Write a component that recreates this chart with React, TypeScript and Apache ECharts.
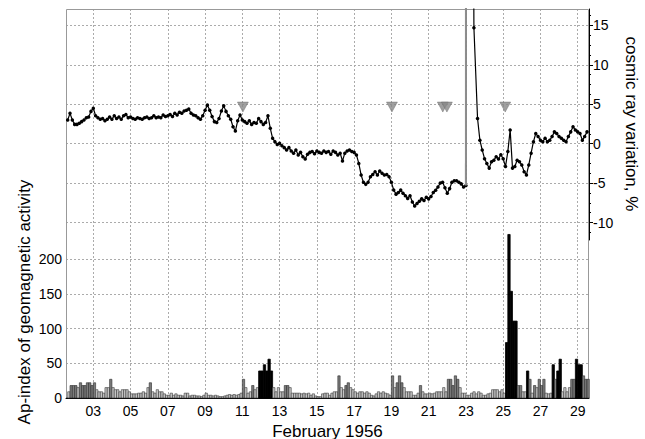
import React, { useEffect, useRef } from "react";
import * as echarts from "echarts";

// ---------- data ----------
const dayTicks = [3, 5, 7, 9, 11, 13, 15, 17, 19, 21, 23, 25, 27, 29];
const crTicks = [-10, -5, 0, 5, 10, 15];
const apTicks = [0, 50, 100, 150, 200];

const sampleStart = 1.625; // Feb 1, 15 UT (day of month)
const sampleStep = 0.125; // 3 hours

// cosmic ray variation, %, 3-hourly from sampleStart (samples 0..171)
const cosmicBefore = [
  3.0, 3.85, 3.0, 2.45, 2.45, 2.6, 2.8, 3.0, 3.3, 3.4,
  4.1, 4.5, 3.55, 3.3, 3.1, 3.2, 2.9, 3.1, 3.4, 3.1,
  3.55, 3.2, 3.4, 3.1, 3.55, 3.7, 3.3, 3.4, 3.2, 3.1,
  3.3, 3.2, 3.1, 3.3, 3.4, 3.2, 3.3, 3.55, 3.3, 3.4,
  3.3, 3.65, 3.45, 3.55, 3.7, 3.45, 3.85, 3.65, 4.0, 3.85,
  4.15, 4.25, 4.4, 3.85, 3.65, 3.55, 3.3, 3.1, 3.55, 4.25,
  4.9, 4.25, 3.45, 2.8, 2.7, 3.2, 4.15, 4.8, 4.1, 3.55,
  3.1, 2.15, 1.6, 2.9, 3.65,
  3.0, 2.8, 2.6, 2.9, 2.45, 2.7, 2.6, 3.2, 2.8, 2.45,
  2.7, 3.55, 1.95, 0.68, 0.26, -0.1, 0.05, -0.25, -0.5, -0.8,
  -0.5, -0.93, -1.2, -0.8, -1.43, -1.1, -1.65, -1.95, -1.35, -1.1,
  -1.0, -1.27, -0.93, -1.1, -1.2, -0.93, -1.1, -1.0, -1.35, -0.93,
  -1.1, -1.43, -1.2, -2.2, -1.2, -0.93, -0.8, -1.0, -1.1, -1.43,
  -2.5, -3.97, -4.9, -5.16, -4.9, -4.2, -3.9, -3.55, -3.97, -3.47,
  -3.76, -3.97, -3.9, -4.2, -4.9, -5.88, -6.4, -6.2, -5.88, -6.3,
  -6.6, -6.94, -6.6, -7.4, -7.9,
  -7.6, -7.3, -7.0, -7.2, -6.8, -7.0, -6.7, -6.2, -5.9, -5.5,
  -5.0, -4.9, -5.6, -6.3, -5.7, -4.9, -4.7, -4.7, -4.9, -5.1,
  -5.5, -5.3,
];

// ground level enhancement of 23 Feb 1956 (off scale)
const gleDays = [23.04, 23.3, 23.41, 23.43];
const gleValues = [300, 80, 25, 14.7];

// cosmic ray variation, %, 3-hourly, samples 176..223
const cosmicAfterStart = 176;
const cosmicAfter = [
  3.2, 0.45, -0.8, -1.9, -2.5, -3.1, -2.3, -2.1, -1.65, -1.95,
  -1.4, -1.9, -2.9, -1.0, 1.75, -3.1, -2.9, -2.1, -2.3, -2.7,
  -3.55, -3.97, -2.7, -1.2, 0.25, 1.3, 0.9, 0.45, 0.25, 0.7,
  0.25, 0.45, 0.9, 1.5, 1.3, 0.9, 0.7, 0.45, 0.25, 0.9,
  1.5, 2.15, 1.75, 1.5, 1.3, 0.45, 0.9, 1.5,
];

// 3-hourly Ap index from sampleStart
const apIndex = [
  9, 18, 18, 18, 15, 22, 18, 18, 22, 22,
  18, 22, 12, 9, 9, 7, 15, 15, 27, 15,
  12, 12, 9, 12, 12, 12, 9, 6, 6, 6,
  7, 7, 9, 7, 15, 22, 9, 7, 12, 9,
  9, 6, 4, 4, 7, 4, 6, 4, 4, 3,
  7, 7, 3, 4, 4, 3, 3, 2, 4, 7,
  4, 4, 3, 4, 3, 2, 2, 3, 4, 5,
  4, 5, 4, 5, 7,
  27, 15, 7, 9, 18, 12, 15, 39, 39, 48,
  39, 56, 39, 15, 9, 15, 9, 9, 18, 18,
  15, 7, 7, 7, 7, 6, 7, 6, 7, 4,
  6, 3, 2, 2, 6, 7, 7, 4, 7, 9,
  9, 32, 15, 12, 18, 22, 15, 12, 9, 7,
  9, 9, 7, 9, 7, 4, 3, 6, 9, 7,
  9, 7, 6, 4, 32, 15, 22, 32, 22, 15,
  9, 9, 9, 4, 4, 7,
  18, 9, 6, 6, 7, 6, 7, 9, 9, 9,
  15, 9, 27, 27, 18, 32, 27, 15, 7, 7,
  4, 4, 7, 9, 6, 9, 7, 4, 4, 6,
  7, 12, 12, 12, 9, 12, 7,
  80, 236, 154, 111, 111, 18, 18, 9, 9, 39,
  27, 7, 18, 15, 27, 18, 27, 7, 6, 7,
  48, 27, 39, 56, 9, 15, 9, 15, 27, 27,
  56, 48, 48, 32, 27, 27,
];

// event markers (triangles)
const eventDays = [11.03, 19.03, 21.76, 21.98, 25.11];
const eventLevel = 4.65;

// ---------- layout / style ----------
const X_MIN = 1.535;
const X_MAX = 29.607;
const CR_MIN = -12.22;
const CR_MAX = 17.09;
const AP_MAX = 228;
const FONT = '"Liberation Sans", Arial, Helvetica, sans-serif';
const GRID_COLOR = "#ababab";

function apStyle(v: number) {
  if (v >= 39) return { fill: "#000000", stroke: "#000000", lineWidth: 0.8 };
  if (v >= 18) return { fill: "#7c7c7c", stroke: "#2a2a2a", lineWidth: 0.6 };
  return { fill: "#c4c4c4", stroke: "#3a3a3a", lineWidth: 0.6 };
}

export default function App() {
  const ref = useRef<HTMLDivElement>(null);

  useEffect(() => {
    if (!ref.current) return;
    const chart = echarts.init(ref.current, undefined, { renderer: "svg" });

    const cosmicData: (number | null)[][] = [
      ...cosmicBefore.map((v, i) => [sampleStart + i * sampleStep, v]),
      ...gleDays.map((d, k) => [d, gleValues[k]]),
      ...cosmicAfter.map((v, k) => [sampleStart + (cosmicAfterStart + k) * sampleStep, v]),
    ];
    const lastBefore = cosmicBefore.length - 1;
    const riseData = [
      [sampleStart + lastBefore * sampleStep, cosmicBefore[lastBefore]],
      [gleDays[0], gleValues[0]],
    ];
    // [interval start, interval end, Ap]
    const apData = apIndex.map((v, i) => [
      sampleStart + i * sampleStep,
      sampleStart + (i + 1) * sampleStep,
      v,
    ]);
    const eventData = eventDays.map((d) => [d, eventLevel]);

    const dashed = { color: GRID_COLOR, type: [2, 2] as any, width: 1 };
    const pad2 = (v: number) => (v < 10 ? "0" + v : String(v));

    const option: any = {
      animation: false,
      backgroundColor: "#ffffff",
      textStyle: { fontFamily: FONT },
      grid: [
        { left: 66, right: 56, top: 9, height: 231 },
        { left: 66, right: 56, top: 240, height: 158 },
      ],
      xAxis: [
        {
          type: "value",
          gridIndex: 0,
          min: X_MIN,
          max: X_MAX,
          axisLine: { show: false },
          axisTick: { show: false, customValues: dayTicks },
          axisLabel: { show: false, customValues: dayTicks },
          splitLine: { show: true, lineStyle: dashed },
        },
        {
          type: "value",
          gridIndex: 1,
          min: X_MIN,
          max: X_MAX,
          axisLine: { show: true, onZero: false, lineStyle: { color: "#000", width: 1 } },
          axisTick: { show: false, customValues: dayTicks },
          axisLabel: {
            customValues: dayTicks,
            formatter: (v: number) => pad2(Math.round(v)),
            fontSize: 14,
            color: "#000",
            margin: 6,
            fontFamily: FONT,
          },
          splitLine: { show: true, lineStyle: dashed },
        },
      ],
      yAxis: [
        {
          type: "value",
          gridIndex: 0,
          position: "right",
          min: CR_MIN,
          max: CR_MAX,
          splitNumber: 6,
          axisLine: { show: true, onZero: false, lineStyle: { color: "#000", width: 1 } },
          axisTick: { show: true, length: 4, customValues: crTicks, lineStyle: { color: "#000" } },
          minorTick: { show: true, splitNumber: 4, length: 2, lineStyle: { color: "#000" } },
          axisLabel: {
            customValues: crTicks,
            fontSize: 14,
            color: "#000",
            margin: 4,
            fontFamily: FONT,
          },
          splitLine: { show: true, lineStyle: dashed },
        },
        {
          type: "value",
          gridIndex: 1,
          min: 0,
          max: AP_MAX,
          axisLine: { show: true, onZero: false, lineStyle: { color: "#000", width: 1 } },
          axisTick: { show: false, customValues: apTicks },
          axisLabel: {
            customValues: apTicks,
            fontSize: 14,
            color: "#000",
            margin: 4,
            fontFamily: FONT,
          },
          splitLine: { show: true, lineStyle: dashed },
        },
      ],
      graphic: [
        {
          type: "rect",
          z: 1,
          silent: true,
          shape: { x: 66.5, y: 9.5, width: 522, height: 388 },
          style: { fill: "none", stroke: "#999", lineWidth: 1 },
        },
        {
          type: "text",
          x: 24,
          y: 302,
          rotation: Math.PI / 2,
          style: {
            text: "Ap-index of geomagnetic activity",
            fill: "#000",
            fontSize: 17,
            fontFamily: FONT,
            align: "center",
            verticalAlign: "middle",
          },
        },
        {
          type: "text",
          x: 631,
          y: 124,
          rotation: -Math.PI / 2,
          style: {
            text: "cosmic ray variation, %",
            fill: "#000",
            fontSize: 17,
            fontFamily: FONT,
            align: "center",
            verticalAlign: "middle",
          },
        },
        {
          type: "text",
          x: 327.5,
          y: 431,
          style: {
            text: "February 1956",
            fill: "#000",
            fontSize: 17,
            fontFamily: FONT,
            align: "center",
            verticalAlign: "middle",
          },
        },
      ],
      series: [
        {
          type: "custom",
          name: "Ap",
          xAxisIndex: 1,
          yAxisIndex: 1,
          data: apData,
          encode: { x: [0, 1], y: 2 },
          clip: false,
          renderItem: (params: any, api: any) => {
            const x0 = api.value(0);
            const x1 = api.value(1);
            const v = api.value(2);
            const p0 = api.coord([x0, 0]);
            const p1 = api.coord([x1, v]);
            return {
              type: "rect",
              shape: {
                x: p0[0],
                y: p1[1],
                width: p1[0] - p0[0],
                height: p0[1] - p1[1],
              },
              style: apStyle(v),
            };
          },
          z: 2,
        },
        {
          type: "line",
          name: "cosmic",
          xAxisIndex: 0,
          yAxisIndex: 0,
          data: cosmicData,
          clip: true,
          symbol: "circle",
          symbolSize: 3.5,
          showSymbol: true,
          lineStyle: { color: "#000", width: 1.2 },
          itemStyle: { color: "#000" },
          z: 3,
        },
        {
          type: "line",
          name: "gle",
          xAxisIndex: 0,
          yAxisIndex: 0,
          data: riseData,
          clip: true,
          symbol: "none",
          lineStyle: { color: "#8e8e8e", width: 2 },
          z: 4,
        },
        {
          type: "scatter",
          name: "events",
          xAxisIndex: 0,
          yAxisIndex: 0,
          data: eventData,
          symbol: "triangle",
          symbolRotate: 180,
          symbolSize: [11, 10],
          itemStyle: { color: "#878787", borderColor: "#666", borderWidth: 0.5 },
          z: 5,
        },
      ],
    };

    chart.setOption(option);
    return () => chart.dispose();
  }, []);

  return (
    <div
      ref={ref}
      style={{ position: "absolute", left: 0, top: 0, width: 645, height: 439 }}
    />
  );
}
